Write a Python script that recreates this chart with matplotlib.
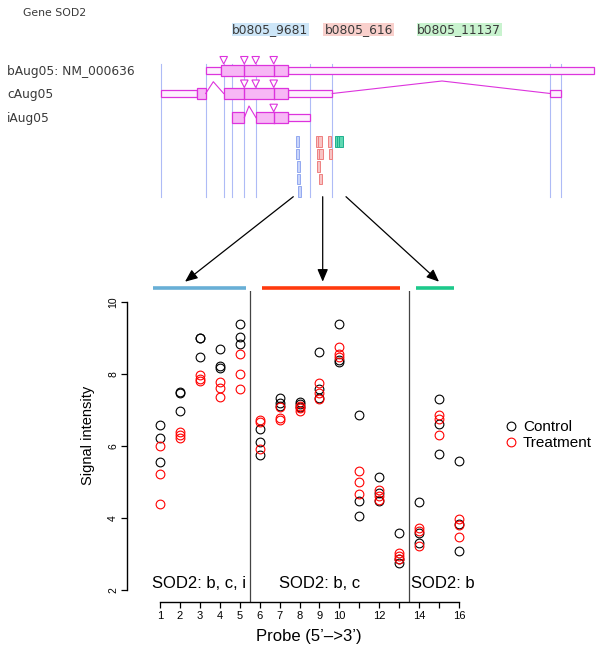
import matplotlib
matplotlib.use("Agg")
import matplotlib.pyplot as plt
from matplotlib.patches import Rectangle, Polygon
from matplotlib.lines import Line2D

plt.rcParams['font.family'] = ['Liberation Sans', 'DejaVu Sans']

# ---------------- data ----------------
probes = list(range(1, 17))
control = [
    [6.59, 6.22, 5.56],
    [7.51, 7.48, 6.99],
    [9.02, 9.00, 8.47],
    [8.70, 8.23, 8.17],
    [9.39, 9.05, 8.83],
    [6.48, 6.13, 5.75],
    [7.33, 7.20, 7.12],
    [7.24, 7.17, 7.10],
    [8.62, 7.58, 7.35],
    [9.39, 8.40, 8.34],
    [6.88, 4.47, 4.06],
    [5.15, 4.70, 4.47],
    [3.60, 2.88, 2.75],
    [4.46, 3.58, 3.32],
    [7.31, 6.62, 5.78],
    [5.59, 3.85, 3.10],
]
treatment = [
    [6.01, 5.24, 4.41],
    [6.41, 6.31, 6.24],
    [7.98, 7.88, 7.81],
    [7.80, 7.63, 7.37],
    [8.57, 8.01, 7.59],
    [6.73, 6.67, 5.93],
    [7.08, 6.80, 6.72],
    [7.13, 7.06, 6.98],
    [7.75, 7.47, 7.31],
    [8.75, 8.57, 8.48],
    [5.31, 5.01, 4.67],
    [4.78, 4.62, 4.52],
    [3.04, 2.95, 2.86],
    [3.72, 3.66, 3.24],
    [6.87, 6.76, 6.31],
    [3.98, 3.81, 3.47],
]
x_tick_labels = ['1', '2', '3', '4', '5', '6', '7', '8', '9', '10', '', '12', '', '14', '', '16']
y_ticks = [2, 4, 6, 8, 10]
group_bounds = [5.5, 13.5]
group_labels = ['SOD2: b, c, i', 'SOD2: b, c', 'SOD2: b']
group_label_x = [2.95, 9.02, 15.2]
series_names = ['Control', 'Treatment']
series_colors = ['#000000', '#FF0000']

# gene diagram (pixel coordinates of the schematic)
gene_title = 'Gene SOD2'
probe_set_names = ['b0805_9681', 'b0805_616', 'b0805_11137']
probe_set_bg = ['#CDE6F8', '#F9D0CC', '#C9F3CF']
probe_set_box = [(231.7, 309.0), (323.3, 394.0), (416.7, 501.7)]
transcript_names = ['bAug05: NM_000636', 'cAug05', 'iAug05']
transcript_y = [70.0, 93.5, 117.7]
guide_x = [160.7, 205.7, 223.7, 231.7, 244.3, 256.0, 310.0, 332.3, 550.3, 560.6]
# (row, x0, x1)
utr_parts = [(0, 205.7, 221.0), (0, 288.3, 594.0),
             (1, 160.7, 196.7), (1, 288.3, 332.3), (1, 550.3, 560.6),
             (2, 288.3, 310.0)]
cds_parts = [(0, 221.0, 288.3), (1, 196.7, 205.7), (1, 223.7, 288.3),
             (2, 232.3, 244.3), (2, 256.0, 288.3)]
cds_dividers = [(0, 244.3), (0, 273.7), (1, 244.3), (1, 273.7), (2, 273.7)]
introns = [(1, 205.7, 213.3, 223.7, 11.8), (1, 332.3, 442.0, 550.3, 12.5),
           (2, 244.3, 249.0, 256.0, 11.7)]
triangles = [(0, 223.7), (0, 244.3), (0, 255.7), (0, 273.7),
             (1, 244.3), (1, 255.7), (1, 273.7), (2, 273.7)]
probe_rects_blue = [(296.0, 298.7, 135.7, 146.7), (296.3, 299.3, 149.0, 159.3),
                    (297.3, 300.0, 161.0, 172.0), (297.3, 300.0, 173.7, 184.3),
                    (298.3, 301.0, 186.0, 196.7)]
probe_rects_red = [(315.7, 319.5, 135.7, 146.7), (318.0, 322.0, 135.7, 146.7),
                   (327.7, 330.7, 135.7, 146.7), (317.0, 320.5, 149.0, 159.3),
                   (319.0, 322.7, 149.0, 159.3), (329.0, 331.7, 149.0, 159.3),
                   (317.0, 319.7, 161.0, 172.0), (319.0, 321.7, 173.7, 184.3)]
probe_rects_green = [(335.0, 339.0, 135.7, 146.7), (337.0, 341.0, 135.7, 146.7),
                     (339.0, 343.0, 135.7, 146.7)]
arrows = [((293.3, 196.7), (185.0, 281.7)),
          ((322.7, 196.7), (322.7, 281.7)),
          ((346.0, 196.7), (439.0, 281.7))]
bars = [(153.3, 246.0, '#68AFD6'), (261.7, 400.0, '#FF3A0E'), (415.7, 454.0, '#1DC98B')]
bar_y = 287.7

# ---------------- figure ----------------
W, H = 600, 656
fig = plt.figure(figsize=(W / 100, H / 100), dpi=100)

# overlay for schematic (pixel coords)
top = fig.add_axes([0, 0, 1, 1])
top.set_xlim(0, W)
top.set_ylim(H, 0)
top.axis('off')
top.patch.set_visible(False)

MAG = '#DD33DD'
MAGF = '#F7B7F5'
txtc = '#3A3A3A'
mono = ['DejaVu Sans']

top.text(23, 13, gene_title, fontsize=7.8, color=txtc, family=mono, va='center', ha='left')
for name, bg, (x0, x1) in zip(probe_set_names, probe_set_bg, probe_set_box):
    top.add_patch(Rectangle((x0, 23.3), x1 - x0, 12.4, facecolor=bg, edgecolor='none'))
    top.text((x0 + x1) / 2, 29.5, name, fontsize=8.8, color=txtc, family=mono,
             ha='center', va='center')
for name, y in zip(transcript_names, transcript_y):
    top.text(7, y + 1.2, name, fontsize=8.8, color=txtc, family=mono, ha='left', va='center')

for gx in guide_x:
    top.plot([gx, gx], [64.3, 197.3], color='#AEBBF6', lw=0.8, zorder=1)

for row, x0, x1 in utr_parts:
    y = transcript_y[row]
    top.add_patch(Rectangle((x0, y - 3.5), x1 - x0, 7.0, facecolor='#FDF0FD',
                            edgecolor=MAG, lw=0.9, zorder=2))
for row, x0, x1 in cds_parts:
    y = transcript_y[row]
    top.add_patch(Rectangle((x0, y - 5.5), x1 - x0, 11.0, facecolor=MAGF,
                            edgecolor=MAG, lw=0.9, zorder=3))
for row, x in cds_dividers:
    y = transcript_y[row]
    top.plot([x, x], [y - 5.5, y + 5.5], color=MAG, lw=1.0, zorder=4)
for row, x0, xp, x1, dy in introns:
    y = transcript_y[row]
    top.plot([x0, xp, x1], [y, y - dy, y], color=MAG, lw=0.8, zorder=3)
for row, x in triangles:
    y = transcript_y[row]
    top.add_patch(Polygon([(x - 3.8, y - 13.5), (x + 3.8, y - 13.5), (x, y - 6.0)],
                          closed=True, facecolor='white', edgecolor=MAG, lw=0.8, zorder=4))

for rects, fc, ec in [(probe_rects_blue, '#C9D5FA', '#93A9F0'),
                      (probe_rects_red, '#F8C4C4', '#EE8080'),
                      (probe_rects_green, '#5FD8B2', '#1FB08E')]:
    for x0, x1, y0, y1 in rects:
        top.add_patch(Rectangle((x0, y0), x1 - x0, y1 - y0, facecolor=fc,
                                edgecolor=ec, lw=0.7, zorder=3))

for (sx, sy), (tx, ty) in arrows:
    top.annotate('', xy=(tx, ty), xytext=(sx, sy),
                 arrowprops=dict(arrowstyle='-|>,head_length=0.75,head_width=0.32',
                                 color='black', lw=0.9, shrinkA=0, shrinkB=0))
for x0, x1, c in bars:
    top.plot([x0, x1], [bar_y, bar_y], color=c, lw=2.6, solid_capstyle='butt')

# ---------------- scatter plot ----------------
px_per_x = (459 - 160) / 15.0
px_per_y = (590.3 - 302.3) / 8.0
ax_l, ax_r, ax_t, ax_b = 127, 480, 291, 602
ax = fig.add_axes([ax_l / W, 1 - ax_b / H, (ax_r - ax_l) / W, (ax_b - ax_t) / H])
ax.patch.set_visible(False)
ax.set_xlim(1 - (160 - ax_l) / px_per_x, 1 + (ax_r - 160) / px_per_x)
ax.set_ylim(2 - (ax_b - 590.3) / px_per_y, 10 + (302.3 - ax_t) / px_per_y)

for vals_list, col in [(control, series_colors[0]), (treatment, series_colors[1])]:
    for p, vals in zip(probes, vals_list):
        ax.plot([p] * len(vals), vals, 'o', mfc='none', mec=col, ms=6.3, mew=0.8)

for b in group_bounds:
    ax.axvline(b, color='#444444', lw=0.9)
for lab, gxp in zip(group_labels, group_label_x):
    ax.text(gxp, 2.06, lab, fontsize=12, ha='center', va='baseline')

for s in ['top', 'right']:
    ax.spines[s].set_visible(False)
ax.spines['left'].set_bounds(2, 10)
ax.spines['bottom'].set_bounds(1, 16)
ax.spines['left'].set_linewidth(1.0)
ax.spines['bottom'].set_linewidth(1.0)
ax.set_xticks(probes)
ax.set_xticklabels(x_tick_labels, fontsize=8)
ax.set_yticks(y_ticks)
ax.set_yticklabels([str(v) for v in y_ticks], fontsize=7.5, rotation=90, va='center')
ax.tick_params(axis='both', direction='out', length=4.3, width=0.9, pad=2)

fig.text(88 / W, 1 - 435 / H, 'Signal intensity', rotation=90, fontsize=10.5,
         ha='center', va='center')
fig.text(309 / W, 1 - 637 / H, 'Probe (5\u2019\u2013>3\u2019)', fontsize=12,
         ha='center', va='center')

handles = [Line2D([], [], ls='none', marker='o', mfc='none', mec=c, ms=6.3, mew=0.8)
           for c in series_colors]
fig.legend(handles, series_names, loc='upper left',
           bbox_to_anchor=(503 / W, 1 - 420 / H), frameon=False, fontsize=11,
           handlelength=1.0, handletextpad=0.3, labelspacing=0.15,
           borderpad=0, borderaxespad=0)

fig.savefig('out.png', dpi=100)
